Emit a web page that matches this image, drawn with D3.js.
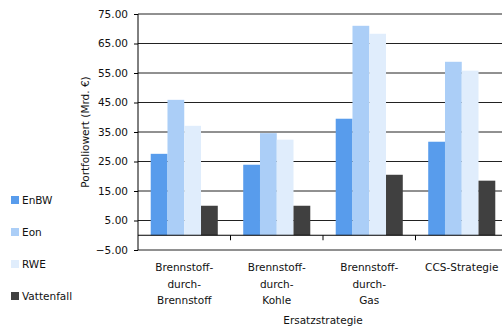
<!DOCTYPE html>
<html><head><meta charset="utf-8">
<script src="https://cdn.jsdelivr.net/npm/d3@7"></script>
<style>body{margin:0;background:#fff}svg{display:block;font-family:"DejaVu Sans",sans-serif}</style>
</head><body>
<svg id="c" width="502" height="326"></svg>
<script>
const categories = [["Brennstoff-","durch-","Brennstoff"],["Brennstoff-","durch-","Kohle"],["Brennstoff-","durch-","Gas"],["CCS-Strategie"]];
const seriesNames = ["EnBW","Eon","RWE","Vattenfall"];
const EnBW = [27.6, 23.9, 39.5, 31.7];
const Eon = [45.9, 34.6, 71.0, 58.8];
const RWE = [37.1, 32.4, 68.3, 55.8];
const Vattenfall = [10.0, 10.0, 20.5, 18.5];
const yTicks = [-5, 5, 15, 25, 35, 45, 55, 65, 75];
const colors = ["#589CEC", "#ABCEF7", "#E0EDFC", "#404040"];
const series = [EnBW, Eon, RWE, Vattenfall];

const svg = d3.select("#c");
const pL = 138, pR = 508, pT = 14, pB = 250;
const y = d3.scaleLinear().domain([-5, 75]).range([pB, pT]);
const x0 = d3.scaleBand().domain(d3.range(categories.length)).range([pL, pR]).paddingInner(0).paddingOuter(0);
const inner = 0.1375;
const x1 = d3.scaleBand().domain(d3.range(series.length)).range([x0.bandwidth()*inner, x0.bandwidth()*(1-inner)]);

// gridlines
svg.append("g").selectAll("line").data(yTicks).join("line")
  .attr("x1", pL).attr("x2", pR)
  .attr("y1", d => y(d)).attr("y2", d => y(d))
  .attr("stroke", "#222").attr("stroke-width", 1);

// bars
const g = svg.append("g");
series.forEach((vals, si) => {
  g.selectAll(null).data(vals).join("rect")
    .attr("x", (d, i) => x0(i) + x1(si))
    .attr("width", x1.bandwidth())
    .attr("y", d => y(Math.max(0, d)))
    .attr("height", d => Math.abs(y(d) - y(0)))
    .attr("fill", colors[si]);
});

// zero line + category ticks
svg.append("line").attr("x1", pL).attr("x2", pR).attr("y1", y(0)).attr("y2", y(0)).attr("stroke", "#000");
svg.append("g").selectAll("line").data(d3.range(1, categories.length)).join("line")
  .attr("x1", d => x0(d)).attr("x2", d => x0(d))
  .attr("y1", y(0)).attr("y2", y(0) + 5).attr("stroke", "#000");

// y axis
const ya = svg.append("g").attr("transform", `translate(${pL},0)`)
  .call(d3.axisLeft(y).tickValues(yTicks).tickFormat(d3.format(".2f")).tickSize(4).tickPadding(6));
ya.select(".domain").attr("d", `M0,${pT}V${pB}`).attr("stroke", "#000");
ya.selectAll(".tick line").attr("stroke", "#000");
ya.selectAll("text").attr("font-size", "10.5px").attr("font-family", "DejaVu Sans").attr("fill", "#111");

// x labels
const xl = svg.append("g");
categories.forEach((lines, i) => {
  const t = xl.append("text").attr("text-anchor", "middle").attr("font-size", "10.5px").attr("fill", "#111");
  lines.forEach((ln, k) => {
    t.append("tspan").attr("x", x0(i) + x0.bandwidth()/2).attr("y", 271 + k*16.5).text(ln);
  });
});
svg.append("text").attr("x", 323).attr("y", 324).attr("text-anchor", "middle")
  .attr("font-size", "10.5px").attr("fill", "#111").text("Ersatzstrategie");

// y title
svg.append("text").attr("transform", `translate(89,${(pT+pB)/2}) rotate(-90)`)
  .attr("text-anchor", "middle").attr("font-size", "10.5px").attr("fill", "#111").text("Portfoliowert (Mrd. €)");

// legend
const legY = [200, 232, 264, 296];
const lg = svg.append("g");
seriesNames.forEach((n, i) => {
  lg.append("rect").attr("x", 11).attr("y", legY[i] - 4).attr("width", 8).attr("height", 8).attr("fill", colors[i]);
  lg.append("text").attr("x", 22).attr("y", legY[i] + 4).attr("font-size", "10.5px").attr("fill", "#111").text(n);
});
</script>
</body></html>
